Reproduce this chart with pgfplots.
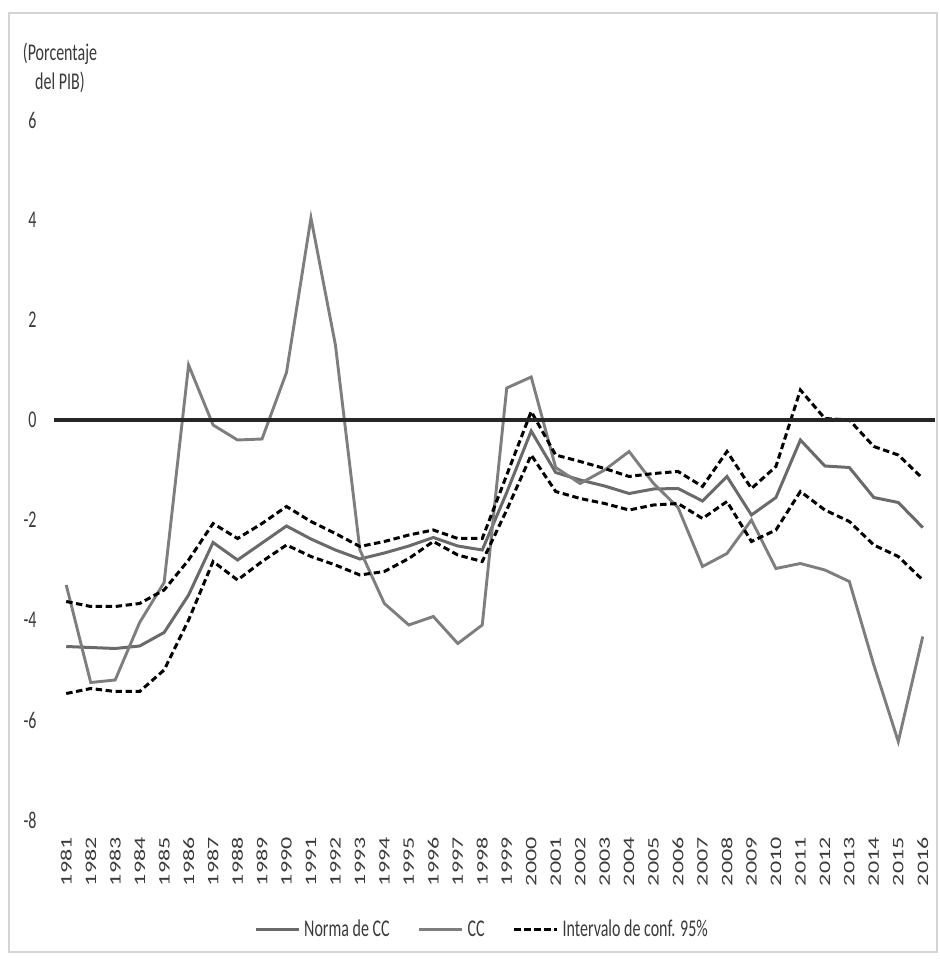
\documentclass[border=0pt]{standalone}
\usepackage{pgfplots}
\pgfplotsset{compat=1.18}
\usepackage{pgfplotstable}
\usepackage{graphicx}
\usepackage{fontspec}
\setmainfont{Carlito}

\definecolor{txt}{HTML}{3A3A3A}
\definecolor{normacol}{HTML}{6A6A6A}
\definecolor{cccol}{HTML}{7E7E7E}
\definecolor{framecol}{HTML}{D4D4D4}

% the reference is stretched vertically
\newcommand\sy[1]{\scalebox{1}[1.5]{#1}}
\newcommand\sx[1]{\scalebox{1.5}[1]{#1}}

% i = year - 1981
\pgfplotstableread{
i  norma  cc     up     lo
0  -4.53  -3.30  -3.63  -5.47
1  -4.55  -5.25  -3.73  -5.37
2  -4.57  -5.20  -3.73  -5.43
3  -4.52  -4.05  -3.67  -5.43
4  -4.25  -3.25  -3.40  -5.00
5  -3.50   1.10  -2.80  -4.00
6  -2.45  -0.10  -2.07  -2.83
7  -2.80  -0.40  -2.37  -3.20
8  -2.46  -0.38  -2.07  -2.83
9  -2.12   0.95  -1.73  -2.50
10 -2.38   4.04  -2.03  -2.73
11 -2.60   1.50  -2.27  -2.90
12 -2.78  -2.60  -2.53  -3.10
13 -2.66  -3.67  -2.43  -3.03
14 -2.52  -4.10  -2.30  -2.77
15 -2.35  -3.93  -2.20  -2.43
16 -2.52  -4.47  -2.37  -2.70
17 -2.60  -4.10  -2.37  -2.83
18 -1.45   0.64  -1.10  -1.80
19 -0.22   0.86   0.17  -0.70
20 -1.05  -0.95  -0.70  -1.43
21 -1.20  -1.27  -0.83  -1.57
22 -1.32  -1.00  -0.97  -1.67
23 -1.47  -0.63  -1.13  -1.80
24 -1.38  -1.27  -1.07  -1.70
25 -1.37  -1.75  -1.03  -1.67
26 -1.62  -2.93  -1.33  -1.97
27 -1.13  -2.67  -0.63  -1.63
28 -1.90  -2.00  -1.37  -2.43
29 -1.55  -2.97  -0.93  -2.20
30 -0.40  -2.87   0.60  -1.43
31 -0.92  -3.00   0.03  -1.80
32 -0.95  -3.23   0.00  -2.03
33 -1.55  -4.90  -0.53  -2.50
34 -1.65  -6.43  -0.70  -2.73
35 -2.15  -4.33  -1.17  -3.20
}\datatab

\begin{document}
\begin{tikzpicture}[font=\fontsize{8pt}{9.6pt}\selectfont, text=txt]
\path[use as bounding box] (0,0) rectangle (469.5pt,480pt);
\draw[framecol, line width=0.8pt] (4.5pt,4pt) rectangle (468.5pt,473.5pt);

\node[align=center, text=txt, inner sep=0pt] at (30pt,446pt)
  {\sy{(Porcentaje}\\[3pt]\sy{del PIB)}};

\begin{axis}[
    at={(27pt,70pt)}, anchor=south west,
    scale only axis,
    width=440.5pt, height=350pt,
    xmin=-0.5, xmax=35.5,
    ymin=-8, ymax=6,
    axis line style={draw=none},
    major tick length=0pt,
    xtick={0,...,35},
    xticklabels={\sx{1981},\sx{1982},\sx{1983},\sx{1984},\sx{1985},\sx{1986},
      \sx{1987},\sx{1988},\sx{1989},\sx{1990},\sx{1991},\sx{1992},\sx{1993},
      \sx{1994},\sx{1995},\sx{1996},\sx{1997},\sx{1998},\sx{1999},\sx{2000},
      \sx{2001},\sx{2002},\sx{2003},\sx{2004},\sx{2005},\sx{2006},\sx{2007},
      \sx{2008},\sx{2009},\sx{2010},\sx{2011},\sx{2012},\sx{2013},\sx{2014},
      \sx{2015},\sx{2016}},
    xticklabel style={rotate=90, anchor=east, inner sep=0pt, text=txt},
    xticklabel shift=8.5pt,
    ytick={-8,-6,-4,-2,0,2,4,6},
    yticklabels={\sy{-8},\sy{-6},\sy{-4},\sy{-2},\sy{0},\sy{2},\sy{4},\sy{6}},
    yticklabel style={anchor=east, inner sep=0pt, text=txt},
    yticklabel shift=8.5pt,
    clip=false,
    legend style={at={(0.487,-0.157)}, anchor=center, draw=none, fill=none,
      legend columns=3, text=txt,
      /tikz/every even column/.append style={column sep=12pt}},
    legend image code/.code={\draw[#1] (0pt,0pt) -- (21.5pt,0pt);},
]
\addplot[normacol, line width=1.5pt] table[x=i, y=norma] {\datatab};
\addplot[cccol, line width=1.45pt] table[x=i, y=cc] {\datatab};
\addplot[black, line width=1.5pt, dash pattern=on 3.2pt off 1.8pt] table[x=i, y=up] {\datatab};
\addplot[black, line width=1.5pt, dash pattern=on 3.2pt off 1.8pt, forget plot] table[x=i, y=lo] {\datatab};
\addplot[black!85, line width=1.6pt, forget plot] coordinates {(-0.5,0) (35.5,0)};
\legend{\sy{Norma de CC},\sy{CC},\sy{Intervalo de conf. 95\%}}
\end{axis}
\end{tikzpicture}
\end{document}
